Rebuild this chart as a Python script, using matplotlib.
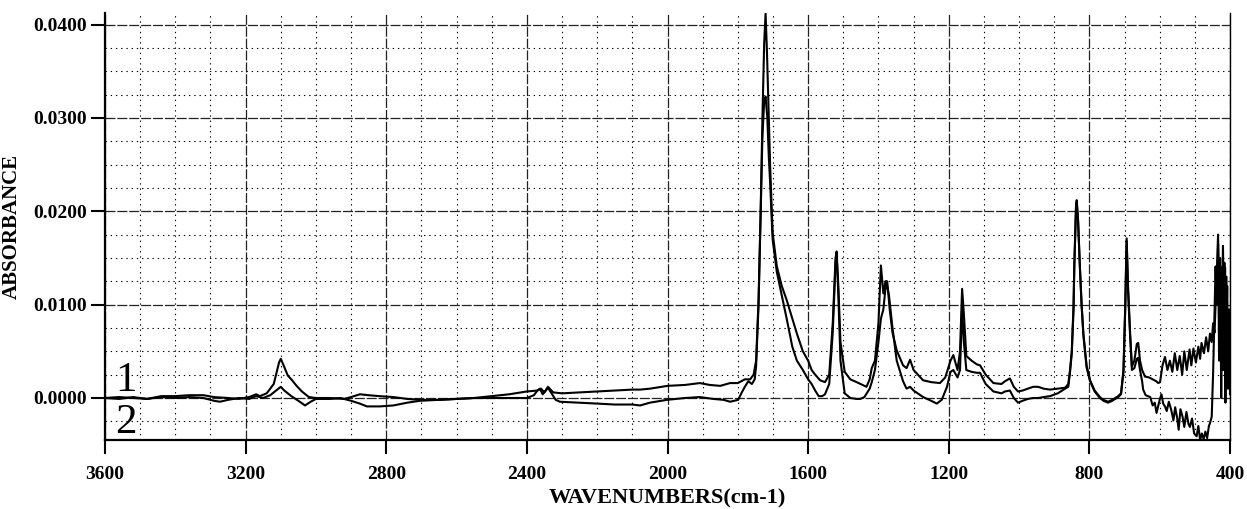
import matplotlib
matplotlib.use("Agg")
import matplotlib.pyplot as plt
from matplotlib.ticker import MultipleLocator, FixedLocator

# ---- data ----
wn1 = [3600, 3560, 3520, 3480, 3440, 3400, 3360, 3320, 3290, 3250, 3220, 3190, 3170, 3160, 3140, 3120,
       3105, 3100, 3092, 3080, 3070, 3055, 3040, 3020, 3000, 2960, 2920, 2900, 2875, 2850, 2820, 2780,
       2740, 2700, 2650, 2600, 2550, 2500, 2450, 2400, 2370, 2360, 2350, 2340, 2325, 2300, 2250, 2200,
       2150, 2100, 2078, 2050, 2000, 1950, 1908, 1880, 1850, 1822, 1800, 1780, 1765, 1755, 1748, 1741,
       1735, 1730, 1725, 1721, 1717, 1712, 1708, 1701, 1689, 1675, 1661, 1645, 1632, 1615, 1600, 1590,
       1580, 1566, 1552, 1540, 1530, 1522, 1519, 1514, 1508, 1496, 1480, 1462, 1434, 1425, 1419, 1410,
       1400, 1393, 1386, 1380, 1375, 1368, 1360, 1348, 1330, 1320, 1310, 1300, 1273, 1250, 1225, 1210,
       1195, 1187, 1175, 1168, 1162, 1157, 1150, 1135, 1120, 1111, 1095, 1073, 1050, 1040, 1026, 1015,
       1003, 990, 975, 960, 946, 930, 912, 890, 869, 860, 855, 850, 845, 843, 838, 836,
       832, 827, 822, 817, 808, 798, 785, 770, 760, 747, 735, 718, 710, 703, 698, 694,
       690, 684, 679, 672, 665, 661, 656, 650, 642, 630, 620, 610, 604, 599, 592, 585,
       578, 571, 564, 557, 550, 543, 536, 530, 523, 515, 510, 504, 497, 490, 485, 481,
       474, 468, 462, 457, 452, 448, 444, 440, 436, 434, 431, 428, 425, 422, 420, 417,
       414, 411, 408, 405, 402, 400]
abs1 = [0.0000, -0.0001, 0.0001, -0.0001, 0.0002, 0.0002, 0.0003, 0.0003, 0.0001, 0.0000, -0.0001, 0.0001, 0.0004, 0.0002, 0.0005, 0.0015,
        0.0038, 0.0042, 0.0035, 0.0024, 0.0020, 0.0013, 0.0007, 0.0001, 0.0000, 0.0000, -0.0001, 0.0001, 0.0004, 0.0003, 0.0002, 0.0001,
        -0.0001, -0.0002, -0.0002, -0.0001, 0.0000, 0.0002, 0.0004, 0.0007, 0.0008, 0.0010, 0.0006, 0.0012, 0.0006, 0.0005, 0.0006, 0.0007,
        0.0008, 0.0009, 0.0009, 0.0010, 0.0013, 0.0014, 0.0016, 0.0014, 0.0013, 0.0016, 0.0016, 0.0020, 0.0020, 0.0025, 0.0040, 0.0105,
        0.0200, 0.0300, 0.0380, 0.0412, 0.0370, 0.0300, 0.0248, 0.0177, 0.0141, 0.0120, 0.0105, 0.0085, 0.0069, 0.0050, 0.0040, 0.0030,
        0.0025, 0.0019, 0.0017, 0.0025, 0.0080, 0.0150, 0.0157, 0.0120, 0.0060, 0.0028, 0.0020, 0.0017, 0.0012, 0.0020, 0.0032, 0.0040,
        0.0080, 0.0142, 0.0112, 0.0125, 0.0125, 0.0095, 0.0070, 0.0051, 0.0035, 0.0032, 0.0041, 0.0030, 0.0019, 0.0017, 0.0016, 0.0022,
        0.0040, 0.0046, 0.0030, 0.0050, 0.0117, 0.0090, 0.0045, 0.0040, 0.0036, 0.0035, 0.0025, 0.0016, 0.0015, 0.0018, 0.0021, 0.0012,
        0.0007, 0.0008, 0.0010, 0.0012, 0.0012, 0.0010, 0.0009, 0.0010, 0.0011, 0.0015, 0.0030, 0.0051, 0.0100, 0.0141, 0.0205, 0.0212,
        0.0190, 0.0141, 0.0100, 0.0069, 0.0035, 0.0019, 0.0008, 0.0001, -0.0002, -0.0004, -0.0002, 0.0002, 0.0005, 0.0030, 0.0100, 0.0171,
        0.0120, 0.0069, 0.0034, 0.0040, 0.0058, 0.0059, 0.0040, 0.0030, 0.0023, 0.0022, 0.0020, 0.0018, 0.0016, 0.0017, 0.0035, 0.0044,
        0.0030, 0.0040, 0.0028, 0.0048, 0.0030, 0.0045, 0.0025, 0.0050, 0.0030, 0.0052, 0.0035, 0.0053, 0.0038, 0.0055, 0.0042, 0.0059,
        0.0048, 0.0065, 0.0050, 0.0069, 0.0060, 0.0080, 0.0070, 0.0110, 0.0150, 0.0175, 0.0120, 0.0060, 0.0140, 0.0100, 0.0163, 0.0080,
        0.0140, 0.0050, 0.0120, 0.0020, 0.0090, 0.0008]

wn2 = [3600, 3560, 3520, 3480, 3440, 3400, 3360, 3320, 3290, 3273, 3250, 3220, 3190, 3170, 3150, 3130,
       3110, 3100, 3090, 3070, 3050, 3031, 3015, 3000, 2960, 2930, 2900, 2875, 2855, 2818, 2780, 2740,
       2704, 2650, 2600, 2550, 2500, 2450, 2400, 2380, 2370, 2363, 2355, 2340, 2330, 2318, 2306, 2250,
       2200, 2150, 2100, 2078, 2050, 2002, 1950, 1908, 1870, 1840, 1822, 1799, 1790, 1780, 1770, 1760,
       1752, 1748, 1741, 1735, 1730, 1725, 1721, 1716, 1712, 1708, 1701, 1689, 1675, 1661, 1645, 1632,
       1615, 1600, 1590, 1580, 1570, 1560, 1552, 1540, 1530, 1522, 1519, 1514, 1508, 1496, 1480, 1462,
       1452, 1440, 1425, 1419, 1410, 1400, 1393, 1386, 1378, 1370, 1360, 1348, 1330, 1320, 1310, 1300,
       1273, 1250, 1234, 1220, 1205, 1195, 1187, 1175, 1168, 1162, 1157, 1150, 1135, 1120, 1111, 1095,
       1073, 1050, 1040, 1026, 1015, 1003, 990, 975, 960, 946, 930, 912, 890, 869, 860, 855,
       850, 845, 843, 838, 836, 832, 827, 822, 817, 808, 798, 785, 770, 760, 747, 735,
       718, 710, 703, 698, 694, 690, 684, 679, 672, 665, 661, 656, 650, 647, 640, 627,
       620, 614, 609, 600, 595, 590, 585, 580, 574, 567, 561, 556, 550, 546, 541, 535,
       530, 524, 518, 514, 508, 502, 495, 490, 485, 480, 475, 470, 465, 460, 457, 452,
       448, 445, 441, 438, 434, 431, 428, 425, 422, 419, 416, 413, 410, 406, 403, 400]
abs2 = [0.0000, 0.0001, 0.0000, -0.0001, 0.0001, 0.0000, 0.0001, 0.0000, -0.0003, -0.0004, -0.0002, 0.0000, -0.0001, 0.0002, 0.0000, 0.0003,
        0.0009, 0.0012, 0.0008, 0.0002, -0.0003, -0.0008, -0.0004, -0.0001, -0.0001, 0.0000, -0.0003, -0.0006, -0.0009, -0.0009, -0.0008, -0.0005,
        -0.0003, -0.0002, -0.0001, 0.0000, 0.0000, 0.0000, 0.0000, 0.0003, 0.0008, 0.0010, 0.0004, 0.0011, 0.0005, -0.0002, -0.0004, -0.0005,
        -0.0006, -0.0007, -0.0007, -0.0008, -0.0005, -0.0002, 0.0000, 0.0001, -0.0001, -0.0002, -0.0004, -0.0002, 0.0005, 0.0012, 0.0018, 0.0015,
        0.0020, 0.0034, 0.0100, 0.0200, 0.0280, 0.0318, 0.0323, 0.0300, 0.0260, 0.0230, 0.0170, 0.0135, 0.0110, 0.0085, 0.0055, 0.0040,
        0.0030, 0.0020, 0.0015, 0.0008, 0.0002, 0.0002, 0.0004, 0.0015, 0.0070, 0.0145, 0.0155, 0.0110, 0.0040, 0.0005, 0.0000, -0.0001,
        -0.0001, 0.0001, 0.0010, 0.0017, 0.0030, 0.0060, 0.0085, 0.0095, 0.0125, 0.0110, 0.0075, 0.0040, 0.0018, 0.0010, 0.0012, 0.0008,
        0.0001, -0.0003, -0.0006, -0.0002, 0.0012, 0.0028, 0.0030, 0.0022, 0.0030, 0.0095, 0.0060, 0.0030, 0.0028, 0.0027, 0.0027, 0.0015,
        0.0007, 0.0005, 0.0007, 0.0008, 0.0000, -0.0005, -0.0003, -0.0001, 0.0000, 0.0000, 0.0001, 0.0002, 0.0005, 0.0010, 0.0012, 0.0028,
        0.0048, 0.0095, 0.0138, 0.0205, 0.0210, 0.0188, 0.0140, 0.0098, 0.0067, 0.0033, 0.0018, 0.0007, 0.0000, -0.0003, -0.0005, -0.0003,
        0.0001, 0.0004, 0.0028, 0.0095, 0.0168, 0.0115, 0.0065, 0.0030, 0.0032, 0.0042, 0.0043, 0.0030, 0.0018, 0.0009, 0.0003, 0.0001,
        -0.0008, -0.0005, -0.0016, -0.0002, 0.0004, -0.0006, -0.0009, -0.0014, -0.0004, -0.0013, -0.0024, -0.0010, -0.0022, -0.0034, -0.0012, -0.0020,
        -0.0031, -0.0015, -0.0028, -0.0031, -0.0022, -0.0038, -0.0041, -0.0030, -0.0045, -0.0038, -0.0044, -0.0036, -0.0043, -0.0030, -0.0027, -0.0020,
        0.0027, 0.0076, 0.0141, 0.0100, 0.0165, 0.0040, 0.0150, 0.0000, 0.0120, 0.0030, 0.0145, -0.0005, 0.0130, 0.0010, 0.0095, 0.0004]

x_ticks = [3600, 3200, 2800, 2400, 2000, 1600, 1200, 800, 400]
y_ticks = [0.0, 0.01, 0.02, 0.03, 0.04]
y_labels = ["0.0000", "0.0100", "0.0200", "0.0300", "0.0400"]
series_labels = ["1", "2"]

# ---- figure ----
fig = plt.figure(figsize=(12.47, 5.09), dpi=100)
ax = fig.add_axes([105/1247, 1 - 440/509, (1230 - 105)/1247, (440 - 13)/509])

serif = ["Liberation Serif", "DejaVu Serif"]

ax.plot(wn1, abs1, color="black", lw=1.5, zorder=3)
ax.plot(wn2, abs2, color="black", lw=1.5, zorder=3)

ax.set_xlim(3600, 400)
ax.set_ylim(-0.0045, 0.04125)

ax.xaxis.set_major_locator(FixedLocator(x_ticks))
ax.xaxis.set_minor_locator(MultipleLocator(100))
ax.yaxis.set_major_locator(FixedLocator(y_ticks))
ax.yaxis.set_minor_locator(MultipleLocator(0.0025))
ax.set_yticklabels(y_labels)
ax.set_xticklabels([str(v) for v in x_ticks])

ax.grid(which="major", color="#222222", lw=0.9, linestyle=(0, (8, 1.5)), zorder=1)
ax.grid(which="minor", color="black", lw=0.8, linestyle=(0, (1.2, 3.5)), zorder=1)

ax.tick_params(which="major", direction="out", length=10, width=1.5)
ax.tick_params(axis="x", which="major", pad=9)
ax.tick_params(axis="y", which="major", pad=3)
ax.tick_params(which="minor", length=0)
for lab in ax.get_xticklabels() + ax.get_yticklabels():
    lab.set_fontfamily(serif)
    lab.set_fontweight("bold")
    lab.set_fontsize(14)

for s in ["left", "bottom"]:
    ax.spines[s].set_linewidth(1.6)
ax.spines["top"].set_visible(False)
ax.spines["right"].set_linewidth(1.0)

ax.set_xlabel("WAVENUMBERS(cm-1)", family=serif, fontweight="bold", fontsize=16, labelpad=4)
ax.set_ylabel("ABSORBANCE", family=serif, fontweight="bold", fontsize=15, labelpad=8)

ax.text(3540, 0.0018, series_labels[0], family=serif, fontsize=31, ha="center", va="center", zorder=4)
ax.text(3540, -0.0027, series_labels[1], family=serif, fontsize=31, ha="center", va="center", zorder=4)

fig.savefig("out.png", dpi=100, facecolor="white")
